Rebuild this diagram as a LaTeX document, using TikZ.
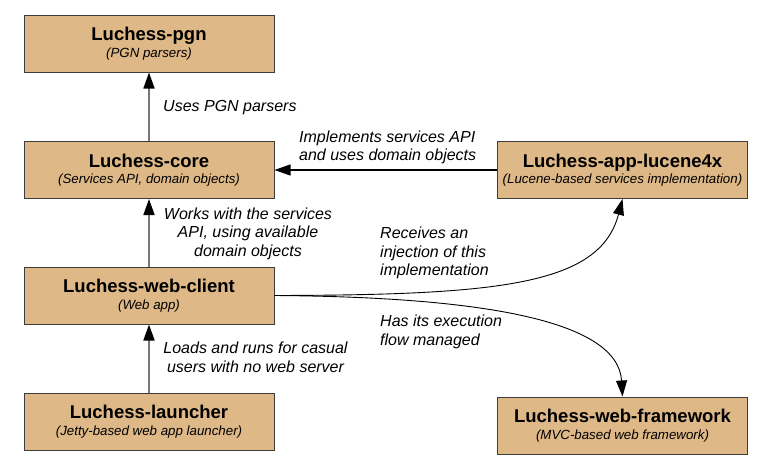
\documentclass[tikz,border=0pt]{standalone}
\usepackage{fontspec}
\setmainfont{Liberation Sans}
\usetikzlibrary{arrows.meta}
\definecolor{boxfill}{HTML}{DEB887}
\definecolor{boxline}{HTML}{3C3C3C}
\definecolor{usesline}{HTML}{777777}
\newcommand{\titlefont}{\fontsize{18.5}{20}\selectfont\upshape\bfseries}
\newcommand{\subfont}{\fontsize{13.3}{16.5}\selectfont\itshape}
\newcommand{\notefont}{\fontsize{16}{18.5}\selectfont\itshape}
\newcommand{\module}[5]{\node[module] (#1) at ( #2 , #3 ) {{\titlefont #4}\\{#5}};}
\tikzset{
  module/.style={draw=boxline, line width=1pt, fill=boxfill, minimum width=250pt, minimum height=57pt, align=center, font=\subfont, inner sep=0pt},
  note/.style={font=\notefont, inner sep=0pt},
  tip/.style={-{Triangle[length=16pt,width=11pt,color=black]}},
  uses/.style={tip, draw=usesline, line width=1.7pt},
  link/.style={tip, draw=black, line width=1.2pt},
  curve/.style={tip, draw=black, line width=0.9pt}
}

\begin{document}
\begin{tikzpicture}[x=1pt,y=-1pt]
        \useasboundingbox (0,0) rectangle (769,474);
        % left column
        \module{pgn}{149}{43.5}{Luchess-pgn}{(PGN parsers)}
        \module{core}{149}{170}{Luchess-core}{(Services API, domain objects)}
        \module{webclient}{149}{295.5}{Luchess-web-client}{(Web app)}
        \module{launcher}{149}{421.5}{Luchess-launcher}{(Jetty-based web app launcher)}
        % right column
        \module{lucene}{622.5}{170}{Luchess-app-lucene4x}{(Lucene-based services implementation)}
        \module{framework}{622.5}{425.5}{Luchess-web-framework}{(MVC-based web framework)}

        % dependencies
        \draw[uses] (core) -- (pgn);
        \draw[link] (lucene) -- (core);
        \draw[uses] (webclient) -- (core);
        \draw[uses] (launcher) -- (webclient);
        \draw[curve] (webclient.east) .. controls (500,295) and (600,285) .. (lucene.south);
        \draw[curve] (webclient.east) .. controls (480,297) and (618,320) .. (framework.north);

        % labels
        \node[note, anchor=west] (usespgn) at (163,108) {Uses PGN parsers};
        \node[note, anchor=west, align=left] (implements) at (299,147.5) {Implements services API\\and uses domain objects};
        \node[note, align=center] (workswith) at (248,233.5) {Works with the services\\API, using available\\domain objects};
        \node[note, anchor=west, align=left] (receives) at (380,253) {Receives an\\injection of this\\implementation};
        \node[note, anchor=west, align=left] (managed) at (380,332) {Has its execution\\flow managed};
        \node[note, align=center] (loads) at (255.5,357.5) {Loads and runs for casual\\users with no web server};
\end{tikzpicture}
\end{document}
